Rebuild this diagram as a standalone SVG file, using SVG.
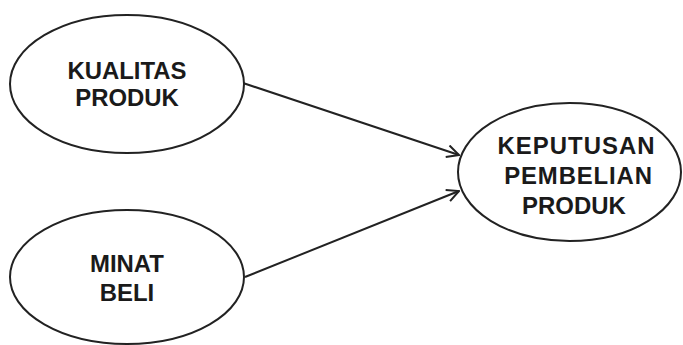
<svg xmlns="http://www.w3.org/2000/svg" width="683" height="345" viewBox="0 0 683 345">
<defs>
<style>
.node ellipse{fill:#fff;stroke:#222;stroke-width:2}
.node text{font-family:"Liberation Sans",Arial,sans-serif;font-weight:bold;font-size:23px;fill:#1a1a1a;text-anchor:middle}
.conn line{stroke:#222;stroke-width:2;fill:none}
</style>
<marker id="arr" viewBox="0 0 14 14" refX="13" refY="7" markerWidth="14" markerHeight="14" markerUnits="userSpaceOnUse" orient="auto">
<path d="M1,1 L13,7 L1,13" fill="none" stroke="#222" stroke-width="2"/>
</marker>
</defs>
<rect width="683" height="345" fill="#fff"/>
<g class="conn">
<line x1="243" y1="83" x2="459" y2="155" marker-end="url(#arr)"/>
<line x1="245" y1="277" x2="459" y2="191" marker-end="url(#arr)"/>
</g>
<g id="kualitas" class="node">
<ellipse cx="127" cy="84" rx="117" ry="69"/>
<g transform="matrix(1.04 0 0 1 -5.08 0)">
<text x="127" y="79">KUALITAS</text>
<text x="127" y="106">PRODUK</text>
</g>
</g>
<g id="minat" class="node">
<ellipse cx="127" cy="277" rx="117" ry="67"/>
<g transform="matrix(1.04 0 0 1 -5.08 0)">
<text x="127" y="272">MINAT</text>
<text x="127" y="301">BELI</text>
</g>
</g>
<g id="keputusan" class="node">
<ellipse cx="569.5" cy="172" rx="111.5" ry="69"/>
<g transform="matrix(1.04 0 0 1 -23.04 0)">
<text x="576" y="154" textLength="151" lengthAdjust="spacing">KEPUTUSAN</text>
<text x="578" y="184" textLength="142" lengthAdjust="spacing">PEMBELIAN</text>
<text x="574" y="214">PRODUK</text>
</g>
</g>
</svg>
